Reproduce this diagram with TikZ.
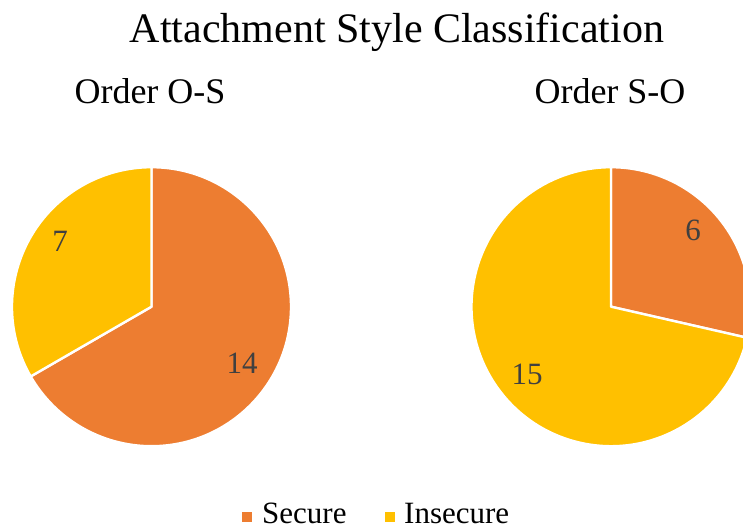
\documentclass[tikz,border=0pt]{standalone}
\usepackage{fontspec}
\setmainfont{Liberation Serif}
\definecolor{secure}{HTML}{ED7D31}
\definecolor{insecure}{HTML}{FFC000}
\definecolor{numgrey}{HTML}{404040}

\begin{document}
\begin{tikzpicture}[x=1pt,y=1pt,
  slice/.style={draw=white,line width=2.4pt,line join=round},
  num/.style={text=numgrey,font=\fontsize{31}{36}\selectfont},
  head/.style={font=\fontsize{36}{42}\selectfont,anchor=base},
  key/.style={minimum size=10pt,inner sep=0pt},
  keytext/.style={font=\fontsize{31}{36}\selectfont,anchor=base west,inner sep=0pt}]

  \useasboundingbox (0,0) rectangle (743,529);
  \clip (0,0) rectangle (743,529);

  \node[font=\fontsize{42}{48}\selectfont,anchor=base] (title) at (397,486) {Attachment Style Classification};

  % left chart: 14 secure, 7 insecure
  \coordinate (cl) at (151.5,222.3);
  \filldraw[slice,fill=secure] (cl) -- ++(90:139.5) arc[start angle=90,end angle=-150,radius=139.5] -- cycle;
  \filldraw[slice,fill=insecure] (cl) -- ++(210:139.5) arc[start angle=210,end angle=90,radius=139.5] -- cycle;
  \node[head] (osHead) at (150,425) {Order O-S};
  \node[num] (os7) at (60,288) {7};
  \node[num] (os14) at (242,166) {14};

  % right chart: 6 secure, 15 insecure
  \coordinate (cr) at (611,222.3);
  \filldraw[slice,fill=secure] (cr) -- ++(90:139.5) arc[start angle=90,end angle=-12.857,radius=139.5] -- cycle;
  \filldraw[slice,fill=insecure] (cr) -- ++(-12.857:139.5) arc[start angle=-12.857,end angle=-270,radius=139.5] -- cycle;
  \node[head] (soHead) at (610,425) {Order S-O};
  \node[num] (so6) at (693,299) {6};
  \node[num] (so15) at (527,155) {15};

  % legend
  \node[key,fill=secure] (keyS) at (247,12) {};
  \node[keytext] (txtS) at (262,5.5) {Secure};
  \node[key,fill=insecure] (keyI) at (389.5,12) {};
  \node[keytext] (txtI) at (404,5.5) {Insecure};

\end{tikzpicture}
\end{document}
